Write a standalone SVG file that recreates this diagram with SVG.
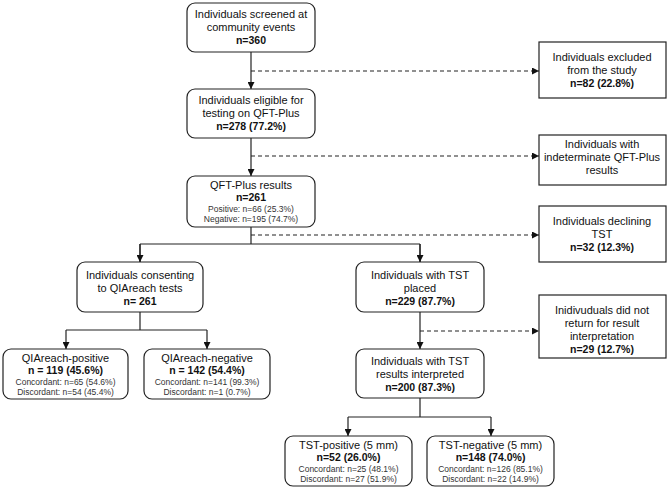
<svg xmlns="http://www.w3.org/2000/svg" width="669" height="489" viewBox="0 0 669 489">
<style>
text{font-family:"Liberation Sans",Arial,sans-serif;fill:#111;text-anchor:middle}
.t{font-size:11px}.b{font-size:10.5px;font-weight:bold}.s{font-size:8.5px;fill:#333}
.r{fill:#fff;stroke:#222;stroke-width:1.2}
.l{fill:none;stroke:#222;stroke-width:1.2}
.d{fill:none;stroke:#222;stroke-width:1.1;stroke-dasharray:4,3}
</style>
<defs><marker id="a" viewBox="0 0 10 10" refX="10" refY="5" markerWidth="7" markerHeight="7" orient="auto" markerUnits="userSpaceOnUse"><path d="M0,0L10,5L0,10z" fill="#111"/></marker></defs>
<rect width="669" height="489" fill="#fff"/>
<g id="connectors">
<path class="l" d="M251,52V89" marker-end="url(#a)"/>
<path class="l" d="M251,138V176" marker-end="url(#a)"/>
<path class="l" d="M251,227V244M140,244H420M140,244V262M420,244V262" />
<path class="l" d="M140,244V262" marker-end="url(#a)"/>
<path class="l" d="M420,244V262" marker-end="url(#a)"/>
<path class="d" d="M251,71H539" marker-end="url(#a)"/>
<path class="d" d="M251,156H539" marker-end="url(#a)"/>
<path class="d" d="M251,235H539" marker-end="url(#a)"/>
<path class="l" d="M140,312V330H66M140,330H207"/>
<path class="l" d="M66,330V349" marker-end="url(#a)"/>
<path class="l" d="M207,330V349" marker-end="url(#a)"/>
<path class="l" d="M420,312V349" marker-end="url(#a)"/>
<path class="d" d="M420,331H539" marker-end="url(#a)"/>
<path class="l" d="M420,398V417H348M420,417H491"/>
<path class="l" d="M348,417V436" marker-end="url(#a)"/>
<path class="l" d="M491,417V436" marker-end="url(#a)"/>
</g>
<g id="n1"><rect class="r" x="187" y="3" width="128" height="49" rx="8"/><text class="t" x="251" y="18">Individuals screened at</text><text class="t" x="251" y="31">community events</text><text class="b" x="251" y="44">n=360</text></g>
<g id="n2"><rect class="r" x="187" y="89" width="128" height="49" rx="8"/><text class="t" x="251" y="104">Individuals eligible for</text><text class="t" x="251" y="117">testing on QFT-Plus</text><text class="b" x="251" y="130">n=278 (77.2%)</text></g>
<g id="n3"><rect class="r" x="187" y="176" width="128" height="51" rx="8"/><text class="t" x="251" y="189">QFT-Plus results</text><text class="b" x="251" y="201">n=261</text><text class="s" x="251" y="212">Positive: n=66 (25.3%)</text><text class="s" x="251" y="222">Negative: n=195 (74.7%)</text></g>
<g id="e1"><rect class="r" x="539" y="42" width="127" height="56"/><text class="t" x="602" y="61">Individuals excluded</text><text class="t" x="602" y="74">from the study</text><text class="b" x="602" y="87">n=82 (22.8%)</text></g>
<g id="e2"><rect class="r" x="539" y="135" width="127" height="50"/><text class="t" x="602" y="148">Individuals with</text><text class="t" x="602" y="161">indeterminate QFT-Plus</text><text class="t" x="602" y="174">results</text><text class="b" x="602" y="181" dy="0" style="display:none"></text><text class="b" x="602" y="183" transform="translate(0,0)" visibility="hidden">.</text></g>
<g id="e3"><rect class="r" x="539" y="206" width="127" height="56"/><text class="t" x="602" y="225">Individuals declining</text><text class="t" x="602" y="238">TST</text><text class="b" x="602" y="251">n=32 (12.3%)</text></g>
<g id="c1"><rect class="r" x="77" y="262" width="126" height="50" rx="8"/><text class="t" x="140" y="279">Individuals consenting</text><text class="t" x="140" y="292">to QIAreach tests</text><text class="b" x="140" y="305">n= 261</text></g>
<g id="q1"><rect class="r" x="3" y="349" width="125" height="50" rx="8"/><text class="t" x="65.5" y="362">QIAreach-positive</text><text class="b" x="65.5" y="374">n = 119 (45.6%)</text><text class="s" x="65.5" y="385">Concordant: n=65 (54.6%)</text><text class="s" x="65.5" y="395">Discordant: n=54 (45.4%)</text></g>
<g id="q2"><rect class="r" x="144" y="349" width="126" height="50" rx="8"/><text class="t" x="207" y="362">QIAreach-negative</text><text class="b" x="207" y="374">n = 142 (54.4%)</text><text class="s" x="207" y="385">Concordant: n=141 (99.3%)</text><text class="s" x="207" y="395">Discordant: n=1 (0.7%)</text></g>
<g id="t1"><rect class="r" x="356" y="262" width="128" height="50" rx="8"/><text class="t" x="420" y="279">Individuals with TST</text><text class="t" x="420" y="292">placed</text><text class="b" x="420" y="305">n=229 (87.7%)</text></g>
<g id="e4"><rect class="r" x="539" y="295" width="127" height="63"/><text class="t" x="602" y="314">Inidivuduals did not</text><text class="t" x="602" y="327">return for result</text><text class="t" x="602" y="340">interpretation</text><text class="b" x="602" y="353">n=29 (12.7%)</text></g>
<g id="t2"><rect class="r" x="356" y="349" width="128" height="49" rx="8"/><text class="t" x="420" y="365">Individuals with TST</text><text class="t" x="420" y="378">results interpreted</text><text class="b" x="420" y="391">n=200 (87.3%)</text></g>
<g id="p1"><rect class="r" x="285" y="436" width="127" height="50" rx="8"/><text class="t" x="348.5" y="449">TST-positive (5 mm)</text><text class="b" x="348.5" y="461">n=52 (26.0%)</text><text class="s" x="348.5" y="472">Concordant: n=25 (48.1%)</text><text class="s" x="348.5" y="482">Discordant: n=27 (51.9%)</text></g>
<g id="p2"><rect class="r" x="427" y="436" width="127" height="50" rx="8"/><text class="t" x="490.5" y="449">TST-negative (5 mm)</text><text class="b" x="490.5" y="461">n=148 (74.0%)</text><text class="s" x="490.5" y="472">Concordant: n=126 (85.1%)</text><text class="s" x="490.5" y="482">Discordant: n=22 (14.9%)</text></g>
</svg>
